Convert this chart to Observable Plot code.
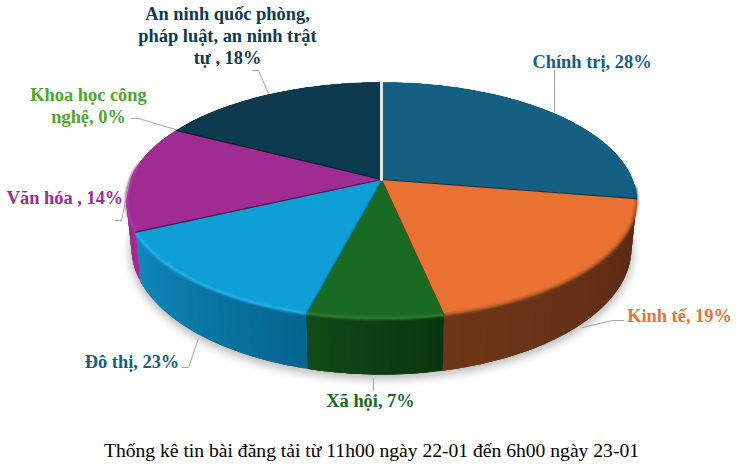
<!DOCTYPE html>
<html><head><meta charset="utf-8">
<script src="https://cdn.jsdelivr.net/npm/d3@7"></script>
<script src="https://cdn.jsdelivr.net/npm/@observablehq/plot@0.6"></script>
<style>
html,body{margin:0;background:#fff}
#cap{font:19.6px "Liberation Serif",serif;color:#000;position:absolute;left:0;top:440px;width:743px;text-align:center;white-space:nowrap}
svg{display:block}
</style></head><body>
<div id="chart"></div><div id="cap"></div>
<script>
// data
const categories=["Chính trị","Kinh tế","Xã hội","Đô thị","Văn hóa","Khoa học công nghệ","An ninh quốc phòng, pháp luật, an ninh trật tự"];
const sliceShares=[27.6,19.1,7.3,14,14.7,0,17.3];      // slice sizes
const labelTexts=["Chính trị, 28%","Kinh tế, 19%","Xã hội, 7%","Đô thị, 23%","Văn hóa , 14%","Khoa học công\nnghệ, 0%","An ninh quốc phòng,\npháp luật, an ninh trật\ntự , 18%"];
const captionText="Thống kê tin bài đăng tải từ 11h00 ngày 22-01 đến 6h00 ngày 23-01";

// style and layout
const faceColors=["#156082","#e97132","#196b24","#0f9ed5","#a02b93","#4ea72e","#0d3a4e"];
const labelColors=["#156082","#e97132","#196b24","#156082","#a02b93","#4ea72e","#0d3a4e"];
const edgeColors=["#0a3448","#7a3a18","#1a7fae","#3f1a4c","#0a2430","#888","#e4e4e4"];
const rimColors=["#0f4d6b","#9a5227","#347f38","#25b6f2","#b73bab","#4ea72e","#0d3a4e"];
const wallFrom=["#0f4d6b","#592914","#0a3510","#05658f","#a52a9b","#4ea72e","#0d3a4e"];
const wallTo=["#0f4d6b","#6e3618","#114a18","#1089bc","#7c1f72","#4ea72e","#0d3a4e"];
const labelAnchor=[[591.5,60],[679,314],[370,399],[131.5,360],[64.5,196],[88,104],[227,34]];
const leaders=[
 [[554,70],[554,111]],
 [[582,327],[612,320],[623,320]],
 [[373,378],[373,390]],
 [[198,338],[188,367],[182,367]],
 [[130,175],[121,220],[115,220]],
 [[131,118],[138,118],[175,129]],
 [[252,70],[258,70],[268,93]]
];
const cx=381,cy=179,A=251,B=114.3,K=0.178,D=46;
const rimFrom=0.26,rimTo=0.77;

// perspective projection of the pie's circle; t is the clockwise share 0..1 from the top
const upper=t=>{const a=t*2*Math.PI,X=Math.sin(a),Y=-Math.cos(a),w=1-K*Y;return {x:cx+A*X/w,y:cy+B*Y/w}};
const lower=t=>{const a=t*2*Math.PI,X=Math.sin(a),Y=-Math.cos(a),w=1-K*Y;return {x:cx+0.98*A*X/w,y:cy+(B*Y+D)/w}};
const total=d3.sum(sliceShares);
let acc=0;
const slices=sliceShares.map((v,i)=>{const s=acc/total;acc+=v;return {i,s,e:acc/total}});
const arc=(f,s,e,n)=>d3.range(n+1).map(k=>f(s+(e-s)*k/n));

const face=[],wall=[],rim=[],edge=[];
for(const sl of slices){
  if(sl.e===sl.s) continue;
  const n=Math.max(4,Math.ceil((sl.e-sl.s)*240));
  face.push({id:sl.i,pts:[{x:cx,y:cy},...arc(upper,sl.s,sl.e,n)]});
  const mix=d3.interpolateRgb(wallFrom[sl.i],wallTo[sl.i]);
  // walls: each strip runs on past its end and the next strip paints over it, leaving no seams
  for(let k=0;k<n;k++){
    const a=sl.s+(sl.e-sl.s)*k/n,b=Math.min(sl.e,a+3*(sl.e-sl.s)/n);
    const top4=arc(upper,a,b,3),bot4=arc(lower,a,b,3).reverse();
    wall.push({id:`${sl.i}-${k}`,c:mix(k/(n-1)),pts:[...top4,...bot4]});
  }
  const rs=Math.max(sl.s,rimFrom),re=Math.min(sl.e,rimTo);
  if(re>rs) rim.push({id:sl.i,c:rimColors[sl.i],pts:arc(upper,rs,re,n)});
  edge.push({id:sl.i,c:edgeColors[sl.i],pts:[{x:cx,y:cy},upper(sl.e)]});
}
const flat=(arr,extra)=>arr.flatMap(o=>o.pts.map(p=>({x:p.x,y:p.y,id:o.id,c:extra?extra(o):o.c})));
const shadow=arc(lower,0,1,240).map(p=>({x:p.x,y:p.y+3}));

const leaderRows=leaders.flatMap((l,id)=>l.map(p=>({x:p[0],y:p[1],id})));
const labelRows=labelTexts.map((text,i)=>({text,x:labelAnchor[i][0],y:labelAnchor[i][1],c:labelColors[i]}));

const chart=Plot.plot({
  width:741,height:430,margin:0,
  x:{domain:[0,741],range:[0,741],axis:null},
  y:{domain:[0,430],range:[0,430],axis:null},
  color:{type:"identity"},
  marks:[
    Plot.line(shadow,{x:"x",y:"y",fill:"#bdbdbd",stroke:"#bdbdbd",strokeWidth:4,imageFilter:"blur(4px)"}),
    Plot.line(flat(wall),{x:"x",y:"y",z:"id",fill:"c",stroke:"none"}),
    Plot.line(flat(face,o=>faceColors[o.id]),{x:"x",y:"y",z:"id",fill:"c",stroke:"c",strokeWidth:0.5}),
    Plot.line(flat(rim),{x:"x",y:"y",z:"id",stroke:"c",strokeWidth:2.5,imageFilter:"blur(0.9px)"}),
    Plot.line(flat(edge.filter(e=>e.id!==6)),{x:"x",y:"y",z:"id",stroke:"c",strokeWidth:1.2}),
    Plot.line(flat(edge.filter(e=>e.id===6)),{x:"x",y:"y",z:"id",stroke:"c",strokeWidth:3}),
    Plot.line(leaderRows,{x:"x",y:"y",z:"id",stroke:"#a6a6a6",strokeWidth:1}),
    Plot.text(labelRows,{x:"x",y:"y",text:"text",fill:"c",fontFamily:"Liberation Serif",fontWeight:"bold",fontSize:18.4,lineHeight:1.2,textAnchor:"middle"})
  ]
});
document.getElementById("chart").append(chart);
document.getElementById("cap").textContent=captionText;
</script>
</body></html>
